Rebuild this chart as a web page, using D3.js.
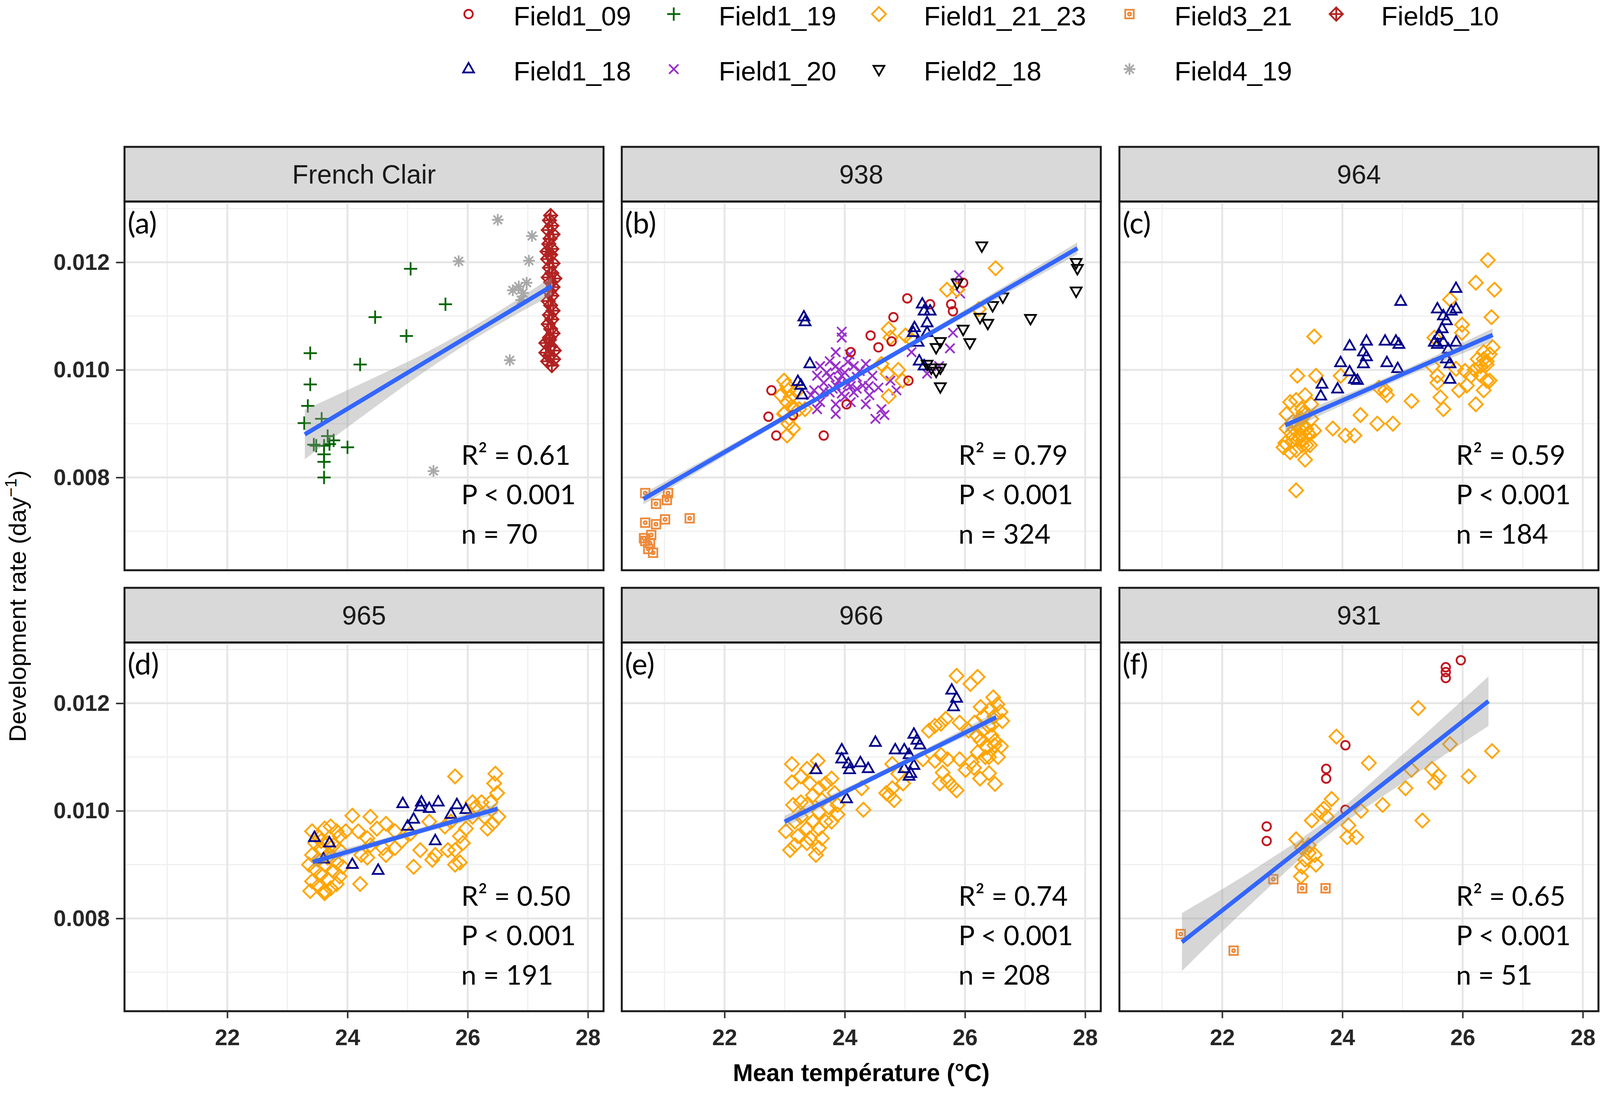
<!DOCTYPE html>
<html>
<head>
<meta charset="utf-8">
<script src="https://cdn.jsdelivr.net/npm/d3@7"></script>
<style>
  html, body { margin: 0; padding: 0; overflow: hidden; background: #fff; }
  svg { display: block; width: 100vw; height: 100vh; }
</style>
</head>
<body>
<svg id="chart"></svg>
<script>
// ---- data ----
var panelNames = ['French Clair', '938', '964', '965', '966', '931'];
var panelTags = ['(a)', '(b)', '(c)', '(d)', '(e)', '(f)'];
var r2Labels = ['R\u00b2 = 0.61', 'R\u00b2 = 0.79', 'R\u00b2 = 0.59', 'R\u00b2 = 0.50', 'R\u00b2 = 0.74', 'R\u00b2 = 0.65'];
var pLabels = ['P < 0.001', 'P < 0.001', 'P < 0.001', 'P < 0.001', 'P < 0.001', 'P < 0.001'];
var nLabels = ['n = 70', 'n = 324', 'n = 184', 'n = 191', 'n = 208', 'n = 51'];

var seriesNames = ['Field1_09', 'Field1_18', 'Field1_19', 'Field1_20', 'Field1_21_23',
                   'Field2_18', 'Field3_21', 'Field4_19', 'Field5_10'];
var seriesColors = ['#c0151f', '#00008b', '#006400', '#9932cc', '#ffa500',
                    '#000000', '#ee8a3a', '#a9a9a9', '#b22222'];

var xMajor = [22, 24, 26, 28];
var xMinor = [21, 23, 25, 27];
var yMajor = [0.008, 0.010, 0.012];
var yMinor = [0.007, 0.009, 0.011, 0.013];

// (a) French Clair
var fcF119 = [[25.05,0.01188],[25.63,0.01122],[24.46,0.01098],[24.98,0.01063],[23.38,0.01031],[24.21,0.0101],
  [23.38,0.00973],[23.34,0.00933],[23.28,0.00901],[23.57,0.00909],[23.44,0.00861],[23.67,0.00877],[23.77,0.00869],
  [23.61,0.00859],[24.0,0.00856],[23.61,0.00843],[23.61,0.00829],[23.61,0.008],[23.48,0.00859],[23.7,0.00862]];
var fcF419 = [[26.5,0.01279],[27.07,0.01249],[25.85,0.01202],[27.02,0.01203],[26.98,0.01162],[26.75,0.01148],
  [26.92,0.01143],[26.89,0.0113],[26.7,0.01018],[25.43,0.00812],[26.85,0.01155]];
var fcF510 = [[27.38,0.01287],[27.36,0.01278],[27.4,0.01268],[27.34,0.0126],[27.42,0.01252],[27.37,0.01244],
  [27.35,0.01234],[27.4,0.01225],[27.38,0.01214],[27.33,0.01206],[27.42,0.01198],[27.36,0.0119],[27.4,0.0118],
  [27.34,0.01172],[27.38,0.01163],[27.42,0.01154],[27.36,0.01146],[27.4,0.01138],[27.34,0.01128],[27.38,0.0112],
  [27.42,0.0111],[27.36,0.01102],[27.4,0.01094],[27.34,0.01085],[27.38,0.01076],[27.42,0.01068],[27.36,0.0106],
  [27.3,0.0105],[27.38,0.01044],[27.44,0.01036],[27.3,0.01032],[27.36,0.01026],[27.43,0.0102],[27.33,0.01016],
  [27.4,0.01008],[27.36,0.01056],[27.45,0.0117],[27.32,0.0122]];

// (b) 938
var b938F321 = [[20.68,0.00771],[20.86,0.00751],[21.06,0.00771],[21.04,0.00758],[20.68,0.00716],[20.86,0.00713],
  [21.01,0.00722],[21.42,0.00724],[20.78,0.00693],[20.68,0.00682],[20.76,0.00678],[20.81,0.0066],[20.73,0.00667],
  [20.66,0.00687]];
var b938F120 = [[23.95,0.01071],[23.95,0.0106],[23.85,0.01033],[24.08,0.01029],[23.75,0.01016],[23.59,0.01007],
  [23.85,0.01007],[24.15,0.01007],[24.35,0.01011],[23.54,0.00989],[23.75,0.00987],[23.95,0.00989],[24.2,0.00987],
  [24.46,0.00989],[23.65,0.00976],[23.85,0.00971],[24.05,0.00973],[24.3,0.00971],[24.56,0.00967],[23.49,0.00962],
  [23.75,0.00958],[23.95,0.00956],[24.15,0.00958],[24.41,0.00953],[23.59,0.0094],[23.85,0.00936],[24.1,0.0094],
  [24.35,0.00936],[24.61,0.00927],[24.51,0.00909],[24.66,0.00916],[23.54,0.00927],[23.85,0.00918],[23.44,0.00953],
  [25.9,0.01176],[25.87,0.01162],[25.92,0.01142],[25.8,0.01069],[25.75,0.0104],[25.57,0.01007],[25.37,0.00993],
  [24.76,0.0098],[24.86,0.00962],[25.11,0.01033],[23.9,0.0098],[24.0,0.00995],[24.1,0.0097],[23.8,0.00965],
  [24.25,0.00998],[23.7,0.00995],[24.0,0.0095],[23.9,0.01],[24.2,0.00965],[24.05,0.01015],[23.65,0.0096],[24.4,0.0097]];
var b938F12123 = [[22.99,0.0098],[23.06,0.00962],[22.94,0.00953],[23.04,0.0094],[23.11,0.00931],[22.99,0.00918],
  [23.06,0.009],[23.04,0.00878],[23.14,0.00891],[24.73,0.01076],[24.76,0.0106],[25.01,0.01064],[24.89,0.01],
  [24.71,0.00993],[24.73,0.00951],[24.96,0.0098],[25.7,0.01149],[25.87,0.01149],[26.51,0.01189],[26.23,0.01113],
  [25.11,0.01056],[24.61,0.01011],[23.04,0.00971],[23.24,0.00927],[23.34,0.00927],[23.1,0.0095],[23.15,0.0093],
  [23.0,0.0092],[23.2,0.0096],[23.08,0.0091]];
var b938F109 = [[22.78,0.00962],[22.73,0.00913],[22.86,0.00878],[23.65,0.00878],[24.1,0.01033],[24.43,0.01064],
  [24.81,0.01098],[24.78,0.01053],[24.56,0.01042],[25.04,0.01133],[25.42,0.01122],[25.8,0.01109],[25.97,0.01162],
  [25.77,0.01122],[25.06,0.0098],[24.03,0.00936],[23.14,0.00916]];
var b938F118 = [[23.32,0.01098],[23.34,0.01089],[23.42,0.01011],[23.22,0.00978],[23.29,0.00953],[25.29,0.01122],
  [25.32,0.01109],[25.16,0.01078],[25.37,0.01087],[25.24,0.01016],[25.32,0.01007],[25.14,0.01069],[25.37,0.01069],
  [25.22,0.01051],[23.27,0.00971],[25.42,0.01109]];
var b938F218 = [[26.28,0.01231],[27.85,0.012],[27.87,0.01189],[27.85,0.01147],[26.63,0.01136],[27.09,0.01096],
  [26.38,0.01087],[26.25,0.01098],[26.08,0.01051],[25.97,0.01076],[25.59,0.01053],[25.52,0.01042],[25.59,0.01004],
  [25.59,0.00969],[25.44,0.01004],[25.37,0.01011],[25.87,0.01162],[26.46,0.0112],[25.52,0.00998]];

// (c) 964
var c964F12123 = [[26.42,0.01204],[26.22,0.01162],[26.53,0.01149],[26.48,0.01098],[23.53,0.01062],[23.25,0.00989],
  [23.56,0.00989],[23.84,0.00891],[24.05,0.00878],[24.2,0.00878],[24.3,0.00916],[24.58,0.009],[24.84,0.009],
  [25.15,0.00942],[24.74,0.00953],[24.71,0.00962],[25.68,0.00927],[25.63,0.00949],[26.22,0.00936],[26.35,0.00962],
  [25.94,0.00962],[26.4,0.0098],[26.07,0.00971],[25.58,0.00976],[25.58,0.00989],[25.5,0.01007],[26.04,0.00998],
  [26.3,0.01007],[26.4,0.01016],[26.45,0.01029],[26.5,0.01042],[26.35,0.01033],[26.25,0.0102],[26.14,0.00989],
  [25.89,0.01002],[23.23,0.00776],[23.38,0.00833],[23.13,0.00847],[23.05,0.00864],[23.28,0.00873],[23.43,0.00882],
  [23.33,0.00896],[23.18,0.00904],[23.07,0.00918],[23.33,0.00927],[23.48,0.00936],[23.23,0.00944],[23.38,0.00953],
  [23.13,0.0094],[23.48,0.00909],[23.28,0.00891],[23.07,0.00891],[23.18,0.00869],[23.02,0.00856],[23.46,0.0086],
  [23.23,0.00851],[23.33,0.0086],[23.15,0.00882],[23.38,0.00916],[23.53,0.00887],[23.97,0.00989],[24.61,0.00967],
  [25.99,0.01069],[25.79,0.01131],[25.99,0.01084],[25.53,0.0106],[23.3,0.0088],[23.35,0.0087],[23.25,0.009],
  [23.4,0.0089],[23.3,0.0091],[23.2,0.0089],[23.45,0.0088],[23.35,0.0092],[23.25,0.0087],[23.4,0.0086],
  [26.3,0.0099],[26.4,0.0101],[26.2,0.01],[26.45,0.0098],[26.35,0.0102]];
var c964F118 = [[25.89,0.01151],[24.97,0.01127],[25.58,0.01113],[25.89,0.01113],[25.68,0.011],[25.73,0.01091],
  [25.66,0.01076],[25.61,0.01064],[25.58,0.01047],[25.68,0.01051],[25.76,0.01038],[25.89,0.01051],[25.73,0.0102],
  [25.79,0.01011],[25.79,0.00982],[24.12,0.01044],[24.4,0.01053],[24.71,0.01053],[24.89,0.01053],[24.94,0.01047],
  [24.35,0.01033],[24.4,0.01024],[24.35,0.01011],[24.74,0.01013],[23.97,0.01013],[24.12,0.00996],[24.2,0.00982],
  [24.25,0.0098],[23.66,0.00973],[23.92,0.00964],[23.64,0.00951],[24.92,0.01002],[25.81,0.01109],[25.53,0.01051]];

// (d) 965
var d965F12123 = [[25.79,0.01064],[26.46,0.01069],[26.44,0.01051],[26.49,0.01033],[26.38,0.01016],[26.51,0.00989],
  [26.41,0.00976],[26.33,0.00967],[26.23,0.01016],[26.13,0.01007],[26.08,0.00989],[25.97,0.00967],[25.87,0.00953],
  [25.92,0.0094],[25.79,0.00927],[25.87,0.00904],[25.79,0.009],[25.67,0.00927],[25.46,0.00918],[25.41,0.00909],
  [25.21,0.00927],[25.1,0.00896],[24.9,0.00944],[24.79,0.00962],[24.64,0.00976],[24.49,0.00967],[24.38,0.00989],
  [24.08,0.00991],[24.18,0.00962],[24.33,0.00949],[24.38,0.00936],[24.59,0.00931],[24.64,0.00918],[24.23,0.00918],
  [24.33,0.00913],[24.21,0.00864],[23.97,0.00962],[23.87,0.00953],[24.79,0.00931],[25.05,0.00958],[25.36,0.0098],
  [25.62,0.00971],[26.08,0.01016],[26.28,0.00989],[25.72,0.0098],
  [23.41,0.00962],[23.51,0.00953],[23.62,0.00967],[23.72,0.00971],[23.82,0.00962],[23.46,0.0094],[23.56,0.00931],
  [23.67,0.0094],[23.77,0.00936],[23.87,0.00927],[23.41,0.00918],[23.51,0.00909],[23.62,0.009],[23.72,0.00913],
  [23.82,0.00904],[23.46,0.00891],[23.56,0.00882],[23.67,0.00873],[23.77,0.00887],[23.87,0.00878],[23.41,0.00869],
  [23.51,0.0086],[23.62,0.00851],[23.72,0.00856],[23.82,0.00864],[23.38,0.00851],[23.62,0.00847],[23.36,0.009],
  [23.92,0.00896],[23.56,0.00944],[23.67,0.00913]];
var d965F118 = [[24.92,0.01013],[25.23,0.01016],[25.51,0.01016],[25.82,0.01011],[25.97,0.01002],[25.1,0.00984],
  [25.0,0.00971],[25.36,0.01004],[25.46,0.00944],[24.08,0.009],[24.51,0.00889],[25.21,0.01007],[25.72,0.00993],
  [23.45,0.0095],[23.7,0.0094],[23.6,0.0091]];

// (e) 966
var e966F12123 = [[25.86,0.01251],[26.21,0.01249],[26.09,0.01236],[26.47,0.01211],[26.54,0.01198],[26.59,0.01184],
  [26.42,0.01189],[26.26,0.01193],[26.31,0.01176],[26.49,0.01176],[26.62,0.01167],[26.39,0.01158],[26.16,0.01164],
  [26.06,0.01149],[25.91,0.01164],[25.68,0.01171],[25.6,0.01162],[25.5,0.01158],[25.4,0.01149],[26.44,0.0114],
  [26.26,0.01131],[26.49,0.01122],[26.37,0.01118],[26.21,0.01109],[26.34,0.011],[26.11,0.01091],[26.01,0.01076],
  [25.91,0.01096],[25.71,0.01096],[25.6,0.01104],[25.5,0.01093],[25.63,0.01071],[25.58,0.01051],[25.78,0.01047],
  [25.86,0.01038],[25.71,0.01056],[25.3,0.01096],[24.79,0.01087],[24.89,0.01069],[24.97,0.01051],[24.79,0.01042],
  [24.74,0.01029],[24.69,0.01033],[24.82,0.0102],[24.31,0.01002],[24.28,0.01042],[23.12,0.01087],[23.55,0.01093],
  [23.37,0.01078],[23.12,0.01053],[23.27,0.01064],[23.14,0.01011],[23.27,0.01016],[23.42,0.01051],[23.57,0.01042],
  [23.68,0.01051],[23.78,0.0106],[23.47,0.01029],[23.62,0.0102],[23.73,0.01007],[23.88,0.01011],[23.83,0.01033],
  [23.37,0.01011],[23.57,0.00998],[23.47,0.0098],[23.68,0.0098],[23.37,0.00967],[23.57,0.00967],[23.02,0.00962],
  [23.22,0.00953],[23.42,0.00949],[23.62,0.00949],[23.17,0.00936],[23.37,0.0094],[23.57,0.00931],[23.09,0.00927],
  [23.52,0.00918],[23.27,0.00989],[23.17,0.0098],[23.78,0.0098],[23.88,0.00993],
  [26.3,0.0115],[26.45,0.0116],[26.5,0.0113],[26.35,0.0112],[26.55,0.011],[26.4,0.0107],[26.25,0.0106],
  [26.5,0.0105],[26.2,0.0114],[26.6,0.0112],[26.15,0.0108],[26.4,0.011]];
var e966F118 = [[25.78,0.01224],[25.81,0.01193],[25.86,0.01209],[25.15,0.01142],[25.2,0.01131],[25.25,0.01122],
  [24.51,0.01127],[23.95,0.01113],[24.84,0.01113],[24.99,0.01113],[25.07,0.01104],[24.26,0.01089],[24.39,0.01078],
  [24.06,0.01087],[24.08,0.01076],[23.52,0.01076],[24.99,0.01078],[25.1,0.01069],[25.07,0.01064],[24.03,0.01022],
  [25.15,0.01084],[23.95,0.01096]];

// (f) 931
var f931F12123 = [[25.26,0.01191],[23.9,0.01138],[25.79,0.01124],[26.49,0.01111],[24.44,0.01089],[25.49,0.01078],
  [25.54,0.01053],[25.15,0.01076],[26.1,0.01064],[25.05,0.01042],[23.82,0.01022],[24.67,0.01011],[24.31,0.01],
  [23.69,0.01004],[23.49,0.00982],[24.1,0.00973],[25.33,0.00982],[24.08,0.00951],[24.23,0.00951],[23.23,0.00947],
  [23.33,0.00931],[23.44,0.00922],[23.54,0.00918],[23.38,0.00909],[23.56,0.009],[23.33,0.00896],[23.31,0.00878],
  [23.44,0.00936],[23.64,0.00998],[23.74,0.00989],[25.6,0.01065]];
var f931F109 = [[25.97,0.0128],[25.72,0.01267],[25.72,0.01258],[25.72,0.01247],[24.05,0.01122],[23.73,0.01078],
  [23.73,0.0106],[22.74,0.00971],[22.74,0.00944],[24.05,0.01002]];
var f931F321 = [[21.31,0.00771],[22.19,0.0074],[22.85,0.00873],[23.33,0.00856],[23.72,0.00856]];

// fitted lines (end points) and confidence band [x, lower, upper]
var fitLines = [
  [[23.29, 0.0088], [27.40, 0.01156]],
  [[20.65, 0.0076], [27.87, 0.01226]],
  [[23.05, 0.00897], [26.50, 0.01065]],
  [[23.42, 0.00905], [26.50, 0.01004]],
  [[23.00, 0.0098], [26.52, 0.01174]],
  [[21.33, 0.00756], [26.43, 0.01204]]
];
var fitBands = [
  [[23.29,0.00834,0.00926],[24.3,0.00918,0.00978],[25.3,0.00998,0.01032],[26.4,0.01077,0.01101],[27.40,0.01139,0.01173]],
  [[20.65,0.0075,0.0077],[24.3,0.00991,0.0100],[27.87,0.01215,0.01237]],
  [[23.05,0.00884,0.0091],[24.8,0.00975,0.00989],[26.5,0.01053,0.01077]],
  [[23.42,0.00895,0.00915],[24.9,0.00948,0.00958],[26.5,0.00994,0.01014]],
  [[23.0,0.00969,0.00991],[24.7,0.01069,0.01079],[26.52,0.01164,0.01184]],
  [[21.33,0.00702,0.0081],[22.5,0.00829,0.00889],[23.8,0.00958,0.00988],[25.1,0.01059,0.01115],[26.43,0.01158,0.0125]]
];

var panelPoints = [
  [['Field1_19', fcF119], ['Field4_19', fcF419], ['Field5_10', fcF510]],
  [['Field3_21', b938F321], ['Field1_20', b938F120], ['Field1_21_23', b938F12123], ['Field1_09', b938F109],
   ['Field1_18', b938F118], ['Field2_18', b938F218]],
  [['Field1_21_23', c964F12123], ['Field1_18', c964F118]],
  [['Field1_21_23', d965F12123], ['Field1_18', d965F118]],
  [['Field1_21_23', e966F12123], ['Field1_18', e966F118]],
  [['Field1_21_23', f931F12123], ['Field1_09', f931F109], ['Field3_21', f931F321]]
];

// ---- layout ----
var W = 4125, H = 2801,
    colLeft = [321, 1603, 2886],
    stripTop = [376, 1505],
    stripH = 140,
    pW = 1235, pH = 944,
    sans = 'Liberation Sans, Arial, sans-serif',
    annot = 'Lato, Carlito, sans-serif';

var color = d3.scaleOrdinal().domain(seriesNames).range(seriesColors);

var x = d3.scaleLinear().domain([20.29, 28.26]).range([0, pW]);
var y = d3.scaleLinear().domain([0.006275, 0.01313]).range([pH, 0]);

// point shapes, roughly R's pch 1,2,3,4,5,6,7,8,9
function shapePath(name) {
  switch (name) {
    case 'Field1_09': return 'M11,0A11,11 0 1,1 -11,0A11,11 0 1,1 11,0Z';
    case 'Field1_18': return 'M0,-16L14,8.5L-14,8.5Z';
    case 'Field1_19': return 'M-17,0H17M0,-17V17';
    case 'Field1_20': return 'M-12,-12L12,12M-12,12L12,-12';
    case 'Field1_21_23': return 'M0,-18L18,0L0,18L-18,0Z';
    case 'Field2_18': return 'M0,16L14,-8.5L-14,-8.5Z';
    case 'Field3_21': return 'M-11,-11H11V11H-11ZM4,0A4,4 0 1,1 -4,0A4,4 0 1,1 4,0Z';
    case 'Field4_19': return 'M-15,0H15M0,-15V15M-11,-11L11,11M-11,11L11,-11';
    case 'Field5_10': return 'M0,-17L17,0L0,17L-17,0ZM-17,0H17M0,-17V17';
  }
}

// draw in a fixed 4125x2801 coordinate system that scales to the window
var svg = d3.select('#chart')
            .attr('viewBox', '0 0 ' + W + ' ' + H)
            .attr('preserveAspectRatio', 'none');
svg.append('rect').attr('width', W).attr('height', H).attr('fill', '#fff');

panelNames.forEach(function(name, i) {
  var col = i % 3, row = Math.floor(i / 3),
      left = colLeft[col], sTop = stripTop[row], pTop = sTop + stripH;

  // strip
  svg.append('rect')
     .attr('x', left).attr('y', sTop).attr('width', pW).attr('height', stripH)
     .attr('fill', '#d9d9d9').attr('stroke', '#1a1a1a').attr('stroke-width', 5);
  svg.append('text')
     .attr('x', left + pW / 2).attr('y', sTop + stripH / 2 + 24)
     .attr('text-anchor', 'middle')
     .style('font-family', sans).style('font-size', '68px').attr('fill', '#1a1a1a')
     .text(name);

  var g = svg.append('g').attr('transform', 'translate(' + left + ',' + pTop + ')');

  // grid
  g.selectAll('.vmin').data(xMinor).enter().append('line')
   .attr('x1', x).attr('x2', x).attr('y1', 0).attr('y2', pH)
   .attr('stroke', '#efefef').attr('stroke-width', 3);
  g.selectAll('.hmin').data(yMinor).enter().append('line')
   .attr('x1', 0).attr('x2', pW).attr('y1', y).attr('y2', y)
   .attr('stroke', '#efefef').attr('stroke-width', 3);
  g.selectAll('.vmaj').data(xMajor).enter().append('line')
   .attr('x1', x).attr('x2', x).attr('y1', 0).attr('y2', pH)
   .attr('stroke', '#e6e6e6').attr('stroke-width', 5);
  g.selectAll('.hmaj').data(yMajor).enter().append('line')
   .attr('x1', 0).attr('x2', pW).attr('y1', y).attr('y2', y)
   .attr('stroke', '#e6e6e6').attr('stroke-width', 5);

  // points
  panelPoints[i].forEach(function(s) {
    g.selectAll(null).data(s[1]).enter().append('path')
     .attr('d', shapePath(s[0]))
     .attr('transform', function(d) { return 'translate(' + x(d[0]) + ',' + y(d[1]) + ')'; })
     .attr('fill', 'none')
     .attr('stroke', color(s[0]))
     .attr('stroke-width', 4.5);
  });

  // confidence band + fitted line
  var area = d3.area()
               .x(function(d) { return x(d[0]); })
               .y0(function(d) { return y(d[1]); })
               .y1(function(d) { return y(d[2]); })
               .curve(d3.curveMonotoneX);
  g.append('path').datum(fitBands[i]).attr('d', area)
   .attr('fill', '#999999').attr('fill-opacity', 0.4);
  var line = d3.line()
               .x(function(d) { return x(d[0]); })
               .y(function(d) { return y(d[1]); });
  g.append('path').datum(fitLines[i]).attr('d', line)
   .attr('fill', 'none').attr('stroke', '#3366ff').attr('stroke-width', 11);

  // border
  g.append('rect').attr('width', pW).attr('height', pH)
   .attr('fill', 'none').attr('stroke', '#1a1a1a').attr('stroke-width', 5);

  // tag and stats
  g.append('text').attr('x', 8).attr('y', 82)
   .style('font-family', annot).style('font-size', '76px').attr('fill', '#000')
   .text(panelTags[i]);
  [r2Labels[i], pLabels[i], nLabels[i]].forEach(function(t, k) {
    g.append('text').attr('x', 868).attr('y', 674 + k * 101)
     .style('font-family', annot).style('font-size', '70px').attr('fill', '#000')
     .text(t);
  });

  // axes
  if (col === 0) {
    var ya = d3.axisLeft(y).tickValues(yMajor).tickSize(22).tickPadding(16)
               .tickFormat(d3.format('.3f'));
    var yg = g.append('g').call(ya);
    yg.select('.domain').remove();
    yg.selectAll('line').attr('stroke', '#333').attr('stroke-width', 4);
    yg.selectAll('text').style('font-family', sans).style('font-size', '58px')
      .style('font-weight', 'bold').attr('fill', '#262626');
  }
  if (row === 1) {
    var xa = d3.axisBottom(x).tickValues(xMajor).tickSize(18).tickPadding(28);
    var xg = g.append('g').attr('transform', 'translate(0,' + pH + ')').call(xa);
    xg.select('.domain').remove();
    xg.selectAll('line').attr('stroke', '#333').attr('stroke-width', 4);
    xg.selectAll('text').style('font-family', sans).style('font-size', '58px')
      .style('font-weight', 'bold').attr('fill', '#262626');
  }
});

// axis titles
svg.append('text')
   .attr('x', colLeft[1] + pW / 2).attr('y', 2768)
   .attr('text-anchor', 'middle')
   .style('font-family', sans).style('font-size', '62px').style('font-weight', 'bold')
   .text('Mean temp\u00e9rature (\u00b0C)');

var yt = svg.append('text')
   .attr('transform', 'translate(66,1552) rotate(-90)')
   .attr('text-anchor', 'middle')
   .style('font-family', sans).style('font-size', '62px');
yt.append('tspan').text('Development rate (day');
yt.append('tspan').attr('dy', -24).style('font-size', '42px').text('\u22121');
yt.append('tspan').attr('dy', 24).text(')');

// legend, filled column by column in two rows
var legendColX = [1208, 1737, 2266, 2912, 3445],
    legendRowY = [36, 177];
var legend = svg.selectAll('.legend-key')
                .data(seriesNames)
                .enter()
                .append('g')
                .attr('class', 'legend-key')
                .attr('transform', function(d, i) {
                  return 'translate(' + legendColX[Math.floor(i / 2)] + ',' + legendRowY[i % 2] + ')';
                });
legend.append('path')
      .attr('d', function(d) { return shapePath(d); })
      .attr('fill', 'none')
      .attr('stroke', function(d) { return color(d); })
      .attr('stroke-width', 4.5);
legend.append('text')
      .attr('x', 116).attr('y', 29)
      .style('font-family', sans).style('font-size', '69px')
      .text(function(d) { return d; });
</script>
</body>
</html>
